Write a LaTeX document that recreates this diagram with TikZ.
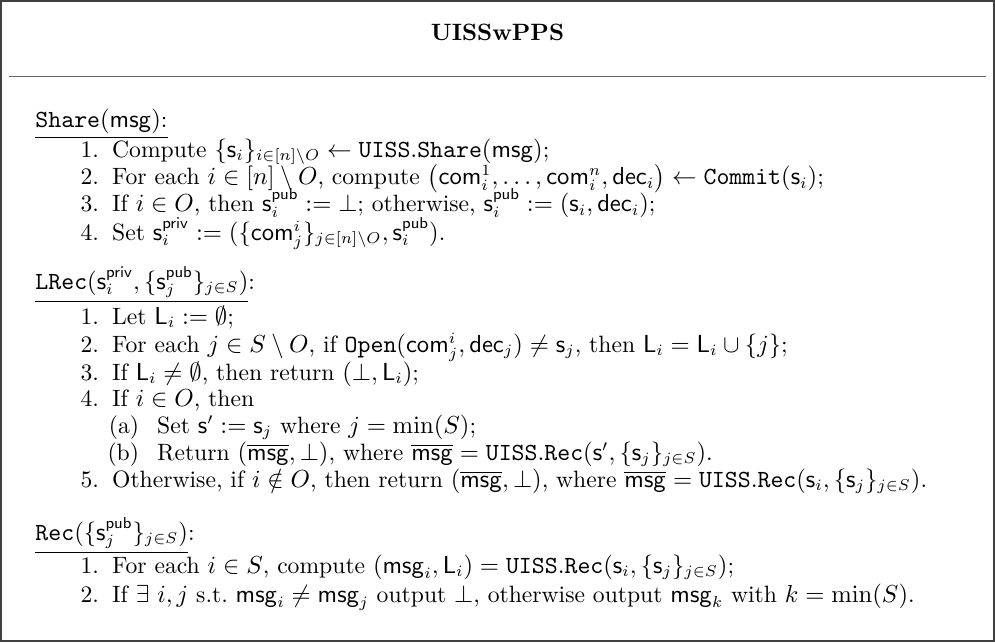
\documentclass[tikz,border=0pt]{standalone}
\usepackage{amsmath,amssymb}
\tikzset{
  basefont/.style={font=\fontsize{10.5}{12.6}\selectfont},
  lbl/.style={basefont, anchor=base east, inner sep=0pt},
  sublbl/.style={basefont, anchor=base east, inner sep=0pt},
  txt/.style={basefont, anchor=base west, inner sep=0pt},
  hdr/.style={basefont, anchor=base west, inner sep=0pt},
  frameline/.style={draw=black!75, line width=0.8pt},
  sepline/.style={draw=black!60, line width=0.7pt}
}
\newcommand{\sfv}[1]{\mathsf{#1}}
\newcommand{\ttv}[1]{\mathtt{#1}}
\newcommand{\mbar}{\overline{\sfv{msg}}}
\begin{document}
\begin{tikzpicture}[x=0.44444pt,y=-0.44444pt]
\useasboundingbox (0,0) rectangle (995,642);
\draw[frameline] (1,1) rectangle (994,641);
\node[basefont, anchor=base, inner sep=0pt] (title) at (497.5,40.5) {\textbf{UISSwPPS}};
\coordinate (sepL) at (9,76.7);
\coordinate (sepR) at (986,76.7);
\draw[sepline] (sepL) -- (sepR);

% Share
\node[hdr] (hshare) at (35,127.5) {\underline{$\ttv{Share}(\sfv{msg})$:}};
\node[lbl] (s1l) at (99.4,157) {1.};
\node[txt] (s1) at (111.7,157) {Compute $\{\sfv{s}_i\}_{i\in[n]\setminus O} \gets \ttv{UISS.Share}(\sfv{msg})$;};
\node[lbl] (s2l) at (99.4,184.5) {2.};
\node[txt] (s2) at (111.7,184.5) {For each $i\in[n]\setminus O$, compute $\big(\sfv{com}_i^1,\ldots,\sfv{com}_i^n,\sfv{dec}_i\big)\gets\ttv{Commit}(\sfv{s}_i)$;};
\node[lbl] (s3l) at (99.4,211.5) {3.};
\node[txt] (s3) at (111.7,211.5) {If $i\in O$, then $\sfv{s}_i^{\sfv{pub}} := \bot$; otherwise, $\sfv{s}_i^{\sfv{pub}} := (\sfv{s}_i,\sfv{dec}_i)$;};
\node[lbl] (s4l) at (99.4,240) {4.};
\node[txt] (s4) at (111.7,240) {Set $\sfv{s}_i^{\sfv{priv}} := (\{\sfv{com}_j^i\}_{j\in[n]\setminus O},\sfv{s}_i^{\sfv{pub}})$.};

% LRec
\node[hdr] (hlrec) at (35,289) {\underline{$\ttv{LRec}(\sfv{s}_i^{\sfv{priv}},\{\sfv{s}_j^{\sfv{pub}}\}_{j\in S})$}:};
\node[lbl] (l1l) at (99.4,324) {1.};
\node[txt] (l1) at (111.7,324) {Let $\sfv{L}_i := \emptyset$;};
\node[lbl] (l2l) at (99.4,352) {2.};
\node[txt] (l2) at (111.7,352) {For each $j\in S\setminus O$, if $\ttv{Open}(\sfv{com}_j^i,\sfv{dec}_j)\neq\sfv{s}_j$, then $\sfv{L}_i=\sfv{L}_i\cup\{j\}$;};
\node[lbl] (l3l) at (99.4,380) {3.};
\node[txt] (l3) at (111.7,380) {If $\sfv{L}_i\neq\emptyset$, then return $(\bot,\sfv{L}_i)$;};
\node[lbl] (l4l) at (99.4,406.5) {4.};
\node[txt] (l4) at (111.7,406.5) {If $i\in O$, then};
\node[sublbl] (lal) at (139.5,433) {(a)};
\node[txt] (la) at (156.7,433) {Set $\sfv{s}' := \sfv{s}_j$ where $j=\min(S)$;};
\node[sublbl] (lbl2) at (139.5,460) {(b)};
\node[txt] (lb) at (156.7,460) {Return $(\mbar,\bot)$, where $\mbar=\ttv{UISS.Rec}(\sfv{s}',\{\sfv{s}_j\}_{j\in S})$.};
\node[lbl] (l5l) at (99.4,487) {5.};
\node[txt] (l5) at (111.7,487) {Otherwise, if $i\notin O$, then return $(\mbar,\bot)$, where $\mbar=\ttv{UISS.Rec}(\sfv{s}_i,\{\sfv{s}_j\}_{j\in S})$.};

% Rec
\node[hdr] (hrec) at (35,540) {\underline{$\ttv{Rec}(\{\sfv{s}_j^{\sfv{pub}}\}_{j\in S})$}:};
\node[lbl] (r1l) at (99.4,573) {1.};
\node[txt] (r1) at (111.7,573) {For each $i\in S$, compute $(\sfv{msg}_i,\sfv{L}_i)=\ttv{UISS.Rec}(\sfv{s}_i,\{\sfv{s}_j\}_{j\in S})$;};
\node[lbl] (r2l) at (99.4,602) {2.};
\node[txt] (r2) at (111.7,602) {If $\exists\ i,j$ s.t.\ $\sfv{msg}_i\neq\sfv{msg}_j$ output $\bot$, otherwise output $\sfv{msg}_k$ with $k=\min(S)$.};
\end{tikzpicture}
\end{document}
